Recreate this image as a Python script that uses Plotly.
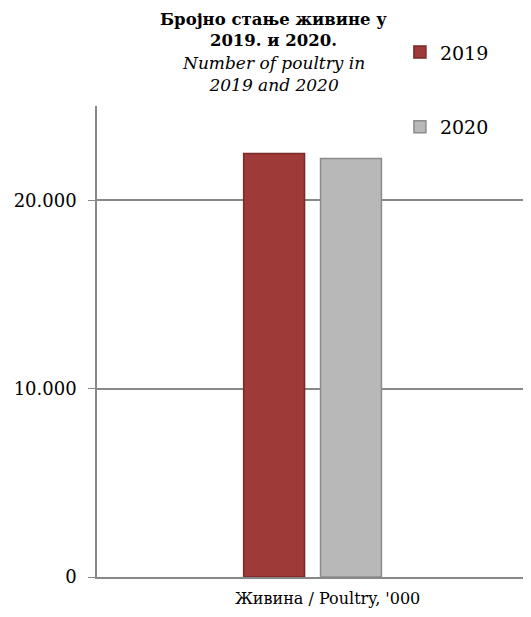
import plotly.graph_objects as go

categories = ["Живина / Poultry, '000"]
years = ["2019", "2020"]
values_2019 = [22480]
values_2020 = [22215]
tick_vals = [0, 10000, 20000]
tick_text = ["0", "10.000", "20.000"]

colors = {"2019": "#9e3a38", "2020": "#b8b8b8"}
lines = {"2019": "#7a2a28", "2020": "#8c8c8c"}
series = {"2019": values_2019, "2020": values_2020}

fig = go.Figure()
for i, y in enumerate(years):
    fig.add_trace(go.Bar(
        x=categories, y=series[y], name=y,
        marker=dict(color=colors[y], line=dict(color=lines[y], width=1.5)),
        legendgroup=y,
    ))

font_family = "DejaVu Serif"
fig.update_layout(
    width=515, height=601,
    margin=dict(l=89, r=0, t=98, b=32, autoexpand=False),
    paper_bgcolor="white", plot_bgcolor="white",
    barmode="group", bargap=0.639, bargroupgap=0.208,
    font=dict(family=font_family, color="black"),
    showlegend=True,
    legend=dict(xref="container", yref="container", x=0.761, y=0.958,
                xanchor="left", yanchor="top",
                font=dict(size=19, family=font_family),
                tracegroupgap=47, bgcolor="rgba(0,0,0,0)", itemwidth=30),
    xaxis=dict(showline=True, linecolor="#888888", linewidth=1.5,
               range=[-0.506, 0.494],
               automargin=False, ticklabelstandoff=6, ticklabelshift=15,
               tickfont=dict(size=16, family=font_family), ticks=""),
    yaxis=dict(range=[0, 25000], tickvals=tick_vals, ticktext=tick_text,
               automargin=False, ticklabelstandoff=8,
               showgrid=True, gridcolor="#888888", gridwidth=1.5,
               showline=True, linecolor="#888888", linewidth=1.5,
               ticks="outside", tickcolor="#888888", ticklen=7,
               tickfont=dict(size=18, family=font_family), zeroline=False),
)
fig.add_annotation(
    xref="paper", yref="paper", x=0.415, y=1.208, xanchor="center", yanchor="top",
    text="<b>Бројно стање живине у<br>2019. и 2020.</b>",
    showarrow=False, align="center", font=dict(size=16.5, family=font_family),
)
fig.add_annotation(
    xref="paper", yref="paper", x=0.415, y=1.117, xanchor="center", yanchor="top",
    text="<i>Number of poultry in<br>2019 and 2020</i>",
    showarrow=False, align="center", font=dict(size=17, family=font_family),
)
fig.write_html("out.html")
